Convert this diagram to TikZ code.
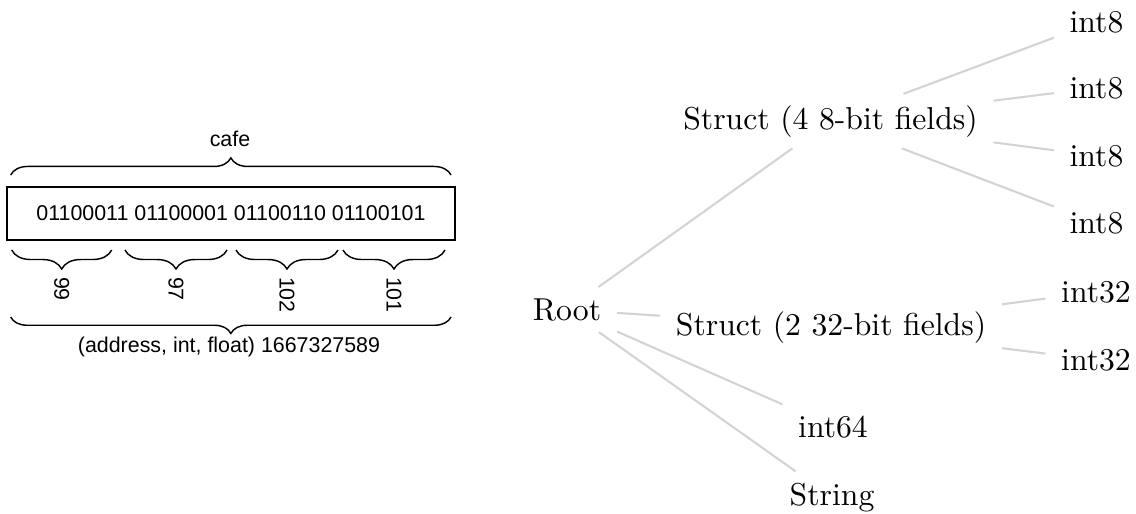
\documentclass[tikz,border=0pt]{standalone}
\usepackage{fontspec}
\newfontfamily\arialf{Liberation Sans}
\usetikzlibrary{decorations.pathreplacing}
\definecolor{edgegray}{RGB}{211,211,211}
\begin{document}
\begin{tikzpicture}[x=0.31546pt,y=-0.31546pt,
  tnode/.style={inner xsep=5pt, inner ysep=3.6pt, outer sep=0pt, anchor=base, font=\fontsize{10}{12}\selectfont},
  tedge/.style={draw=edgegray, line width=0.65pt},
  sanslab/.style={font=\arialf\fontsize{6.75}{8}\selectfont, inner sep=0pt, outer sep=0pt},
  bigbrace/.style={decorate, decoration={brace, amplitude=5.4pt}, line width=0.45pt},
  bigbracedown/.style={decorate, decoration={brace, amplitude=5.2pt, mirror}, line width=0.45pt},
  smallbrace/.style={decorate, decoration={brace, amplitude=6pt, mirror}, line width=0.45pt},
  vlab/.style={sanslab, rotate=-90, anchor=west}
]
\useasboundingbox (0,0) rectangle (1136,513);

% ---------- left: bit layout ----------
\node[sanslab, draw, line width=0.55pt, minimum width=141.2pt, minimum height=16.7pt] (bits) at (231,213.5)
  {01100011 01100001 01100110 01100101};

\draw[bigbrace] (10.7,175) -- (451,175);
\node[sanslab, anchor=base] (cafe) at (230,146) {cafe};

\draw[smallbrace] (11.7,250) -- (111.7,250);
\draw[smallbrace] (125,250) -- (227,250);
\draw[smallbrace] (236,250) -- (338,250);
\draw[smallbrace] (343,250) -- (445,250);
\node[vlab] (b99) at (61.7,277) {99};
\node[vlab] (b97) at (176,277) {97};
\node[vlab] (b102) at (287,277) {102};
\node[vlab] (b101) at (394,277) {101};

\draw[bigbracedown] (10.7,317) -- (451,317);
\node[sanslab, anchor=base] (whole) at (229,352) {(address, int, float) 1667327589};

% ---------- right: type tree ----------
\node[tnode] (root) at (567,320) {Root};
\node[tnode] (s4) at (830.5,129) {Struct (4 8-bit fields)};
\node[tnode] (s2) at (831,335) {Struct (2 32-bit fields)};
\node[tnode] (i64) at (833,437) {int64};
\node[tnode] (str) at (832,505) {String};
\node[tnode] (a1) at (1096.5,32) {int8};
\node[tnode] (a2) at (1096.5,98) {int8};
\node[tnode] (a3) at (1096.5,166) {int8};
\node[tnode] (a4) at (1096.5,233) {int8};
\node[tnode] (c1) at (1096,302) {int32};
\node[tnode] (c2) at (1096,370) {int32};

\draw[tedge] (root) -- (s4);
\draw[tedge] (root) -- (s2);
\draw[tedge] (root) -- (i64);
\draw[tedge] (root) -- (str);
\draw[tedge] (s4) -- (a1);
\draw[tedge] (s4) -- (a2);
\draw[tedge] (s4) -- (a3);
\draw[tedge] (s4) -- (a4);
\draw[tedge] (s2) -- (c1);
\draw[tedge] (s2) -- (c2);
\end{tikzpicture}
\end{document}
